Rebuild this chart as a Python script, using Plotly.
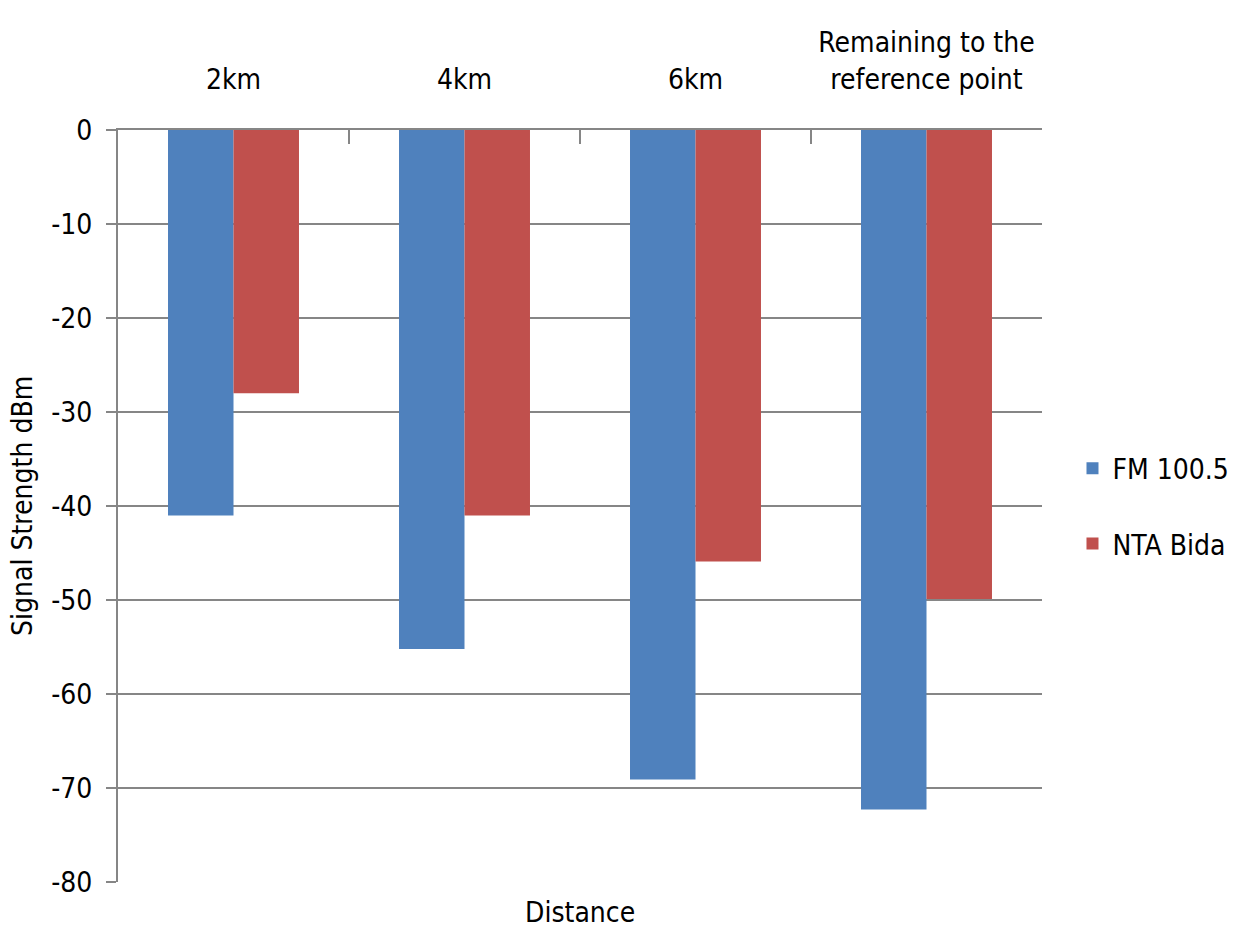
import plotly.graph_objects as go

# Signal strength readings (dBm) at each distance from the transmitters
distances = ["2km", "4km", "6km", "Remaining to the<br>reference point"]
fm_100_5 = [-41, -55.2, -69.1, -72.3]
nta_bida = [-28, -41, -45.9, -49.9]
y_ticks = [0, -10, -20, -30, -40, -50, -60, -70, -80]
y_tick_text = [str(v) for v in y_ticks]  # plain hyphen minus signs

FONT = '"Liberation Sans Narrow", "DejaVu Sans Condensed", "Roboto Condensed", Roboto, sans-serif'
GRID = "#868686"

fig = go.Figure()
fig.add_trace(go.Bar(name="FM 100.5", x=distances, y=fm_100_5,
                     marker=dict(color="#4F81BD", line=dict(width=0)),
                     legendgroup="fm"))
fig.add_trace(go.Bar(name="NTA Bida", x=distances, y=nta_bida,
                     marker=dict(color="#C0504D", line=dict(width=0)),
                     legendgroup="nta"))

fig.update_layout(
    width=1242, height=928,
    margin=dict(l=118, r=200, t=130, b=46, autoexpand=False),
    paper_bgcolor="white", plot_bgcolor="white",
    font=dict(family=FONT, size=28, color="#000000"),
    barmode="group", bargap=0.433, bargroupgap=0,
    legend=dict(x=1.033, y=0.5, xanchor="left", yanchor="middle",
                font=dict(size=28), tracegroupgap=36,
                itemwidth=30, bgcolor="rgba(0,0,0,0)"),
    xaxis=dict(side="top", showgrid=False, showline=True, linecolor=GRID, linewidth=2,
               ticks="inside", tickson="boundaries", ticklen=14, tickcolor=GRID, tickwidth=2,
               tickfont=dict(size=28), tickangle=0, automargin=False,
               ticklabelstandoff=28),
    yaxis=dict(range=[-80, 0], tickvals=y_ticks, ticktext=y_tick_text,
               showgrid=True, gridcolor=GRID, gridwidth=2,
               showline=True, linecolor=GRID, linewidth=2, zeroline=False,
               ticks="outside", ticklen=10, tickcolor=GRID, tickwidth=2,
               tickfont=dict(size=28), automargin=False, ticklabelstandoff=8),
    annotations=[
        dict(text="Distance", xref="paper", yref="paper", x=0.5, y=-0.04,
             xanchor="center", yanchor="middle", showarrow=False,
             font=dict(size=28)),
        dict(text="Signal Strength dBm", xref="paper", yref="paper", x=-0.104, y=0.5,
             xanchor="center", yanchor="middle", textangle=-90, showarrow=False,
             font=dict(size=28)),
    ],
)

fig.write_html("out.html")
